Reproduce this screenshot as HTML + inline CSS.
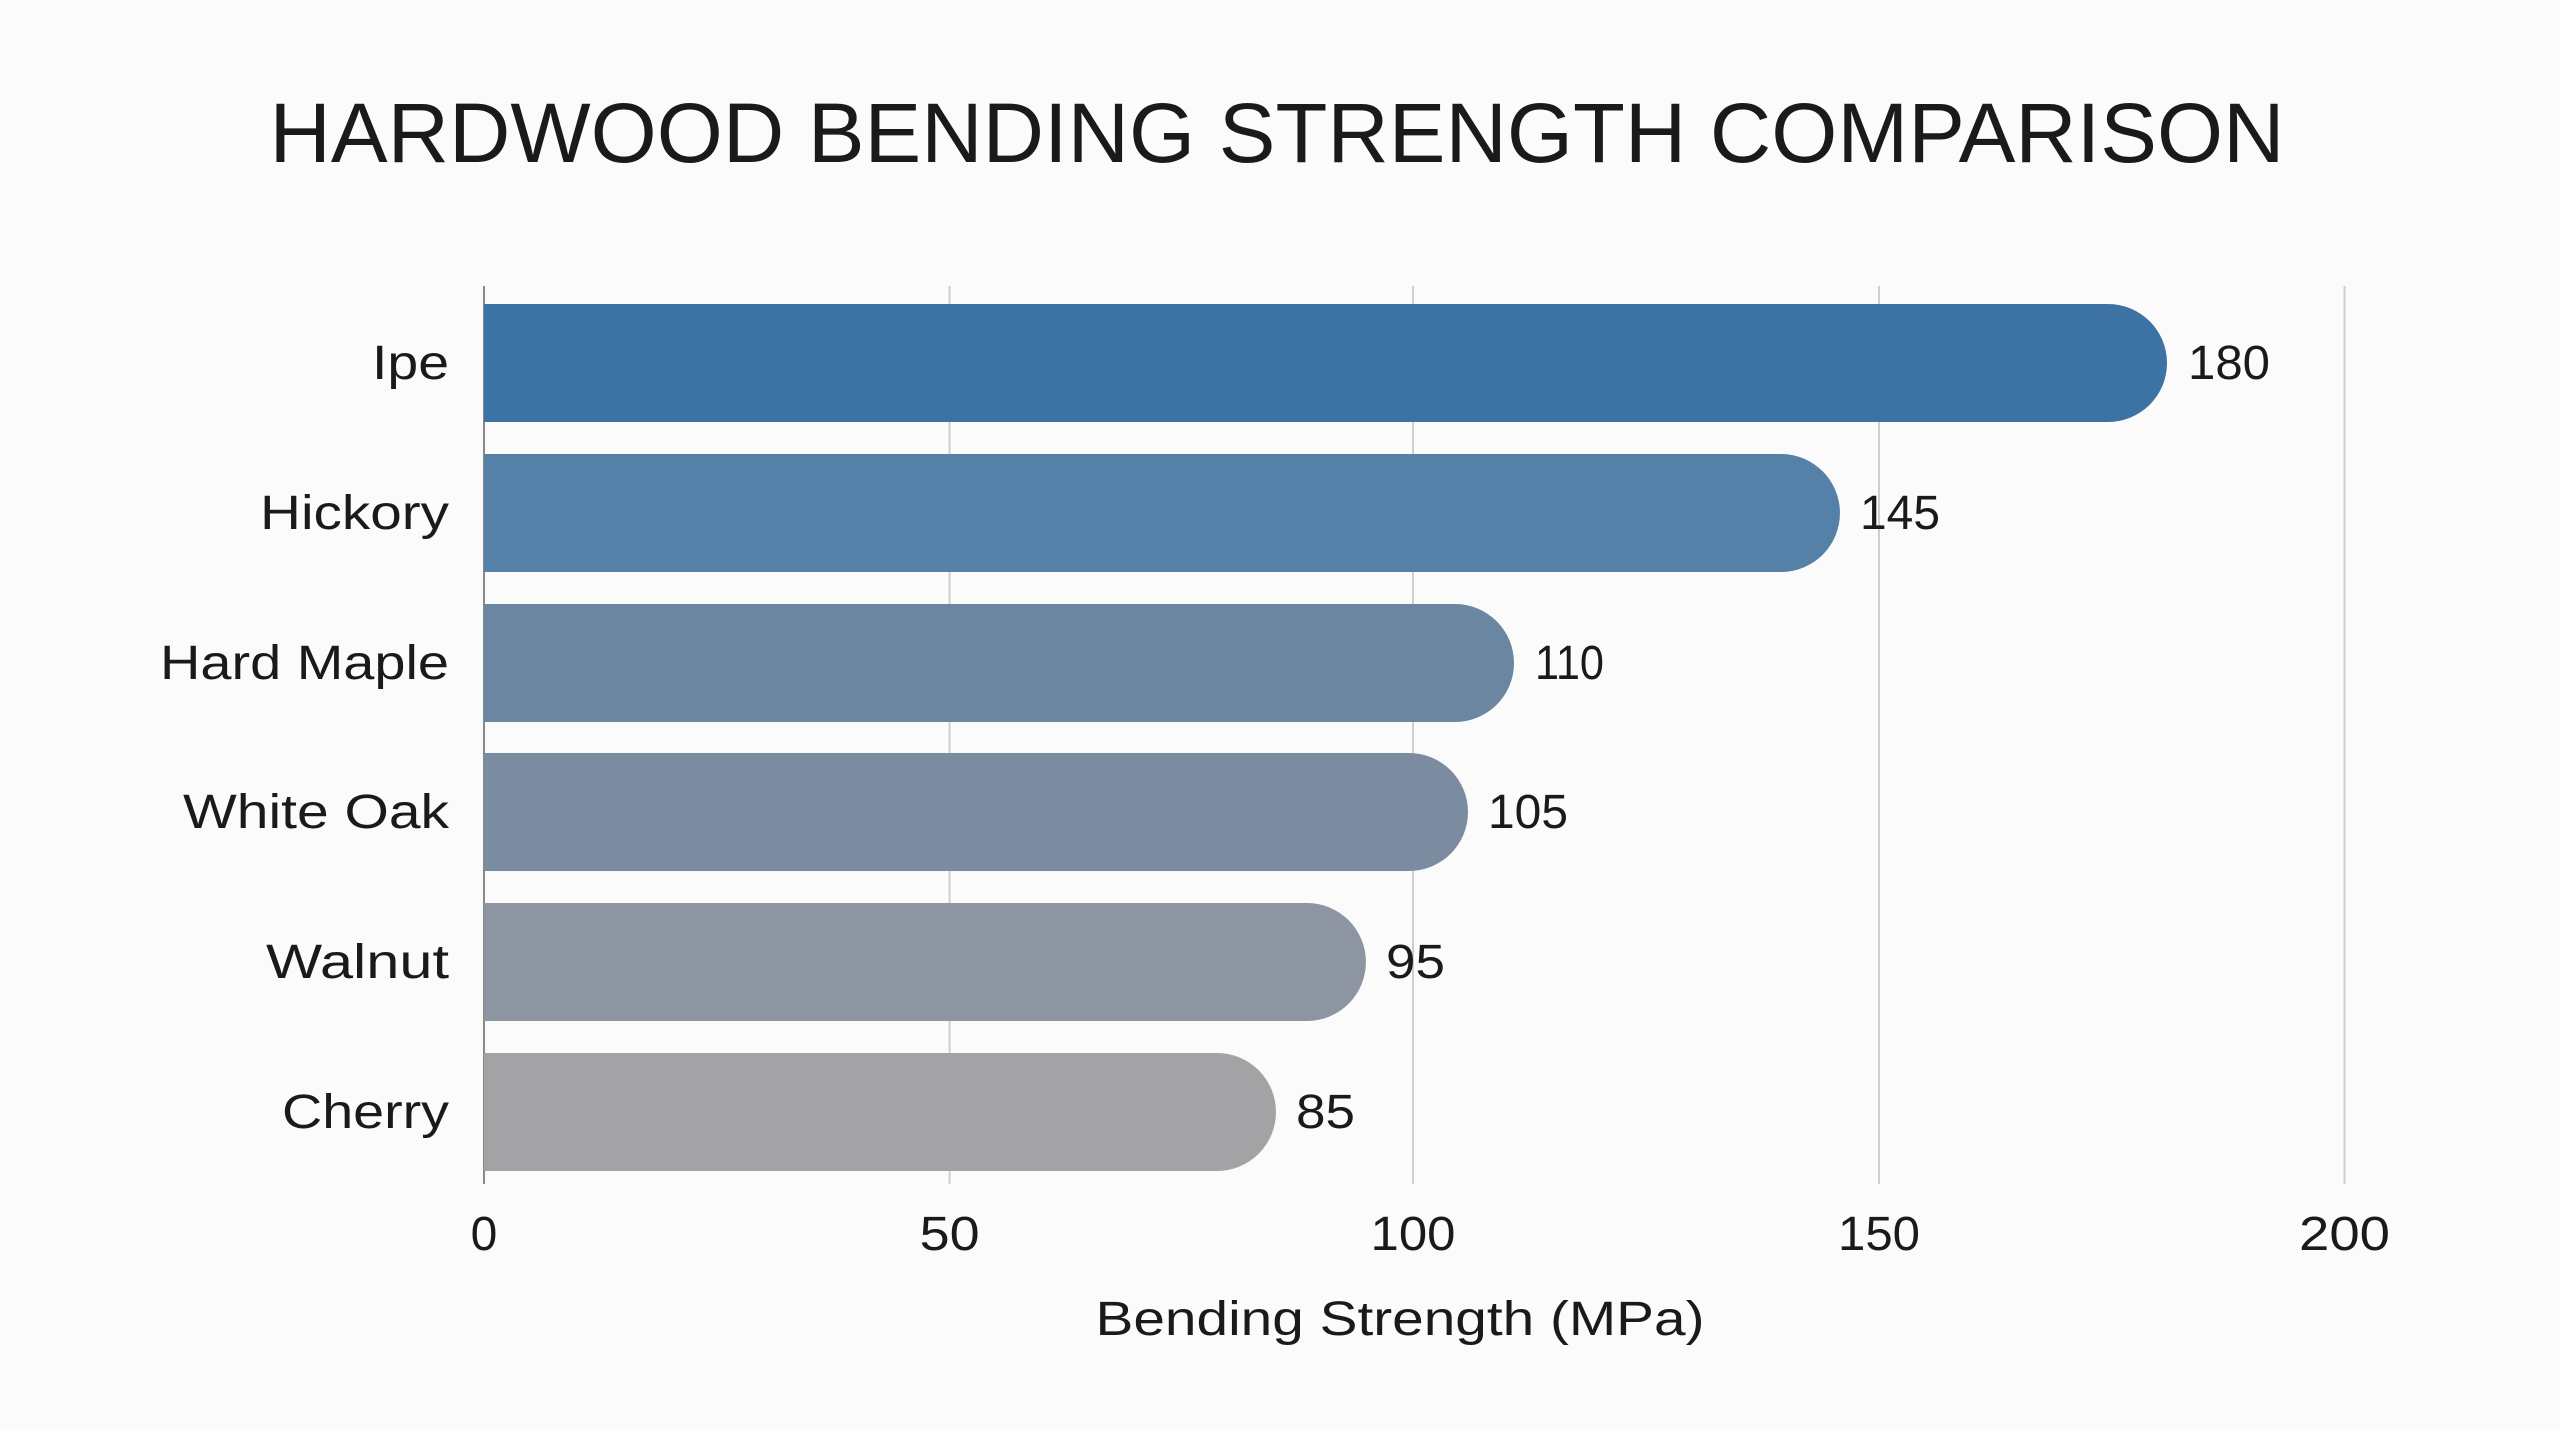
<!DOCTYPE html>
<html><head><meta charset="utf-8"><style>
html,body{margin:0;padding:0;background:#fbfbfb;}
svg{display:block;}
text{font-family:"Liberation Sans",sans-serif;fill:#1a1a1a;}
</style></head><body>
<svg width="2560" height="1429" viewBox="0 0 2560 1429" xmlns="http://www.w3.org/2000/svg">
<rect width="2560" height="1429" fill="#fbfbfb"/>
<text x="1277" y="162" font-size="84" text-anchor="middle" textLength="2015" lengthAdjust="spacingAndGlyphs">HARDWOOD BENDING STRENGTH COMPARISON</text>
<g stroke="#cfcfcf" stroke-width="2">
<line x1="949.6" y1="286" x2="949.6" y2="1184"/>
<line x1="1413" y1="286" x2="1413" y2="1184"/>
<line x1="1879" y1="286" x2="1879" y2="1184"/>
<line x1="2344.5" y1="286" x2="2344.5" y2="1184"/>
</g>
<line x1="484" y1="286" x2="484" y2="1184" stroke="#888" stroke-width="2"/>
<g>
<path d="M484 304 H2108 a59 59 0 0 1 0 118 H484 Z" fill="#3d72a4"/>
<path d="M484 454 H1781 a59 59 0 0 1 0 118 H484 Z" fill="#5580a8"/>
<path d="M484 604 H1455 a59 59 0 0 1 0 118 H484 Z" fill="#6b86a0"/>
<path d="M484 753 H1409 a59 59 0 0 1 0 118 H484 Z" fill="#7b8ca0"/>
<path d="M484 903 H1307 a59 59 0 0 1 0 118 H484 Z" fill="#8e95a2"/>
<path d="M484 1053 H1217 a59 59 0 0 1 0 118 H484 Z" fill="#a3a3a6"/>
</g>
<g font-size="48" text-anchor="end" lengthAdjust="spacingAndGlyphs">
<text x="449" y="379" textLength="77" lengthAdjust="spacingAndGlyphs">Ipe</text>
<text x="449" y="529" textLength="189" lengthAdjust="spacingAndGlyphs">Hickory</text>
<text x="449" y="679" textLength="289" lengthAdjust="spacingAndGlyphs">Hard Maple</text>
<text x="449" y="828" textLength="266" lengthAdjust="spacingAndGlyphs">White Oak</text>
<text x="449" y="978" textLength="183" lengthAdjust="spacingAndGlyphs">Walnut</text>
<text x="449" y="1128" textLength="167" lengthAdjust="spacingAndGlyphs">Cherry</text>
</g>
<g font-size="48">
<text x="2188" y="379" textLength="82" lengthAdjust="spacingAndGlyphs">180</text>
<text x="1860" y="529" textLength="80" lengthAdjust="spacingAndGlyphs">145</text>
<text x="1535" y="679" textLength="69" lengthAdjust="spacingAndGlyphs">110</text>
<text x="1488" y="828" textLength="80" lengthAdjust="spacingAndGlyphs">105</text>
<text x="1386" y="978" textLength="59" lengthAdjust="spacingAndGlyphs">95</text>
<text x="1296" y="1128" textLength="59" lengthAdjust="spacingAndGlyphs">85</text>
</g>
<g font-size="48" text-anchor="middle">
<text x="484" y="1250">0</text>
<text x="949.6" y="1250" textLength="60" lengthAdjust="spacingAndGlyphs">50</text>
<text x="1413" y="1250" textLength="85" lengthAdjust="spacingAndGlyphs">100</text>
<text x="1879" y="1250" textLength="82" lengthAdjust="spacingAndGlyphs">150</text>
<text x="2344.5" y="1250" textLength="91" lengthAdjust="spacingAndGlyphs">200</text>
<text x="1400" y="1335" textLength="609" lengthAdjust="spacingAndGlyphs">Bending Strength (MPa)</text>
</g>
</svg>
</body></html>
